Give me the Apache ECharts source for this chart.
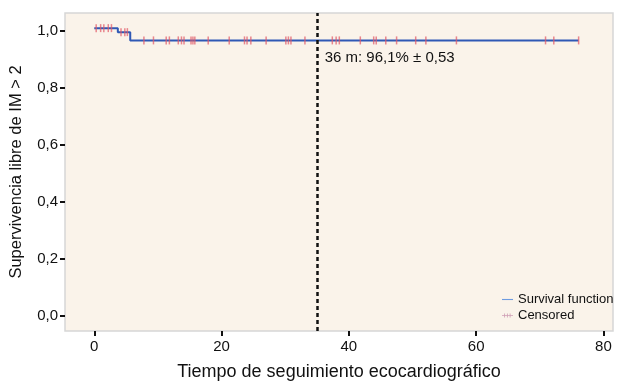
<!DOCTYPE html>
<html>
<head>
<meta charset="utf-8">
<script src="https://cdn.jsdelivr.net/npm/echarts@6/dist/echarts.min.js"></script>
<style>
  html, body { margin: 0; padding: 0; background: #fff; }
  #chart { width: 624px; height: 386px; }
</style>
</head>
<body>
<div id="chart"></div>
<script>
// curva de supervivencia (escalones)
const stepTimes = [0, 3.7, 5.65, 76.1];
const stepSurvival = [1.009, 0.995, 0.966, 0.966];

// casos censurados
const censoredTimes = [0.3, 1.0, 1.5, 2.2, 2.7, 4.2, 4.8, 5.2,
  7.8, 9.3, 11.3, 11.8, 13.2, 13.7, 14.1, 15.2, 15.5, 15.8, 17.9, 21.2,
  23.6, 24.0, 24.6, 27.0, 30.1, 30.5, 30.9, 33.1, 37.4, 38.0, 38.5, 41.8,
  43.9, 44.3, 45.8, 47.5, 50.5, 52.1, 56.9, 70.9, 72.2, 76.1];
const censoredSurvival = [1.009, 1.009, 1.009, 1.009, 1.009, 0.995, 0.995, 0.995,
  0.966, 0.966, 0.966, 0.966, 0.966, 0.966, 0.966, 0.966, 0.966, 0.966, 0.966, 0.966,
  0.966, 0.966, 0.966, 0.966, 0.966, 0.966, 0.966, 0.966, 0.966, 0.966, 0.966, 0.966,
  0.966, 0.966, 0.966, 0.966, 0.966, 0.966, 0.966, 0.966, 0.966, 0.966];

const xTicks = [0, 20, 40, 60, 80];
const yTicks = [0, 0.2, 0.4, 0.6, 0.8, 1.0];
const cutTime = 35;
const annotation = '36 m: 96,1% ± 0,53';

const font = '"Liberation Sans", Arial, sans-serif';

const chart = echarts.init(document.getElementById('chart'));
chart.setOption({
  animation: false,
  textStyle: { fontFamily: font },
  grid: {
    left: 64, right: 11, top: 13, bottom: 54,
    show: true,
    backgroundColor: '#faf3ea',
    borderColor: '#d6d6d6',
    borderWidth: 1.5
  },
  legend: {
    orient: 'vertical',
    left: 497,
    top: 288,
    itemGap: 3,
    itemWidth: 11,
    itemHeight: 8,
    textStyle: { fontSize: 13, color: '#111', fontFamily: font },
    data: [
      {
        name: 'Survival function', icon: 'path://M0,3.5h20v2h-20z',
        itemStyle: { color: '#6d9be0', borderWidth: 0 }
      },
      {
        name: 'Censored',
        icon: 'path://M0,3.5h20v1.5h-20z M4,1h1.5v7h-1.5z M9,1h1.5v7h-1.5z M14,1h1.5v7h-1.5z',
        itemStyle: { color: '#c48aa8', borderWidth: 0 }
      }
    ]
  },
  xAxis: {
    type: 'value',
    min: -4.6,
    max: 81.5,
    name: 'Tiempo de seguimiento ecocardiográfico',
    nameLocation: 'middle',
    nameGap: 32,
    nameTextStyle: { fontSize: 18, color: '#111' },
    axisLine: { show: false, onZero: false },
    splitLine: { show: false },
    axisTick: {
      show: true, customValues: xTicks, length: 5,
      lineStyle: { color: '#111', width: 2 }
    },
    axisLabel: {
      customValues: xTicks, fontSize: 15, color: '#111', margin: 8
    }
  },
  yAxis: {
    type: 'value',
    min: -0.052,
    max: 1.062,
    name: 'Supervivencia libre de IM > 2',
    nameLocation: 'middle',
    nameGap: 40,
    nameTextStyle: { fontSize: 16.5, color: '#111' },
    axisLine: { show: false, onZero: false },
    splitLine: { show: false },
    axisTick: {
      show: true, customValues: yTicks, length: 5,
      lineStyle: { color: '#111', width: 2 }
    },
    axisLabel: {
      customValues: yTicks, fontSize: 15, color: '#111', margin: 7,
      formatter: v => v.toFixed(1).replace('.', ',')
    }
  },
  series: [
    {
      name: 'Survival function',
      type: 'line',
      step: 'end',
      symbol: 'none',
      data: stepTimes.map((t, i) => [t, stepSurvival[i]]),
      itemStyle: { color: '#5b8fd6' },
      lineStyle: { color: '#2f58b5', width: 2 },
      z: 3,
      markLine: {
        silent: true,
        symbol: 'none',
        label: { show: false },
        lineStyle: { color: '#111', type: [4, 3], width: 2.5 },
        data: [{ xAxis: cutTime }]
      },
      markPoint: {
        symbol: 'circle',
        symbolSize: 0,
        label: {
          show: true,
          position: 'right',
          distance: 0,
          formatter: annotation,
          fontSize: 15,
          color: '#111',
          fontFamily: font
        },
        data: [{ coord: [36.2, 0.905] }]
      }
    },
    {
      name: 'Censored',
      type: 'scatter',
      symbol: 'rect',
      symbolSize: [1.5, 8],
      data: censoredTimes.map((t, i) => [t, censoredSurvival[i]]),
      itemStyle: { color: 'rgba(226, 90, 104, 0.9)' },
      z: 4
    }
  ]
});
</script>
</body>
</html>
